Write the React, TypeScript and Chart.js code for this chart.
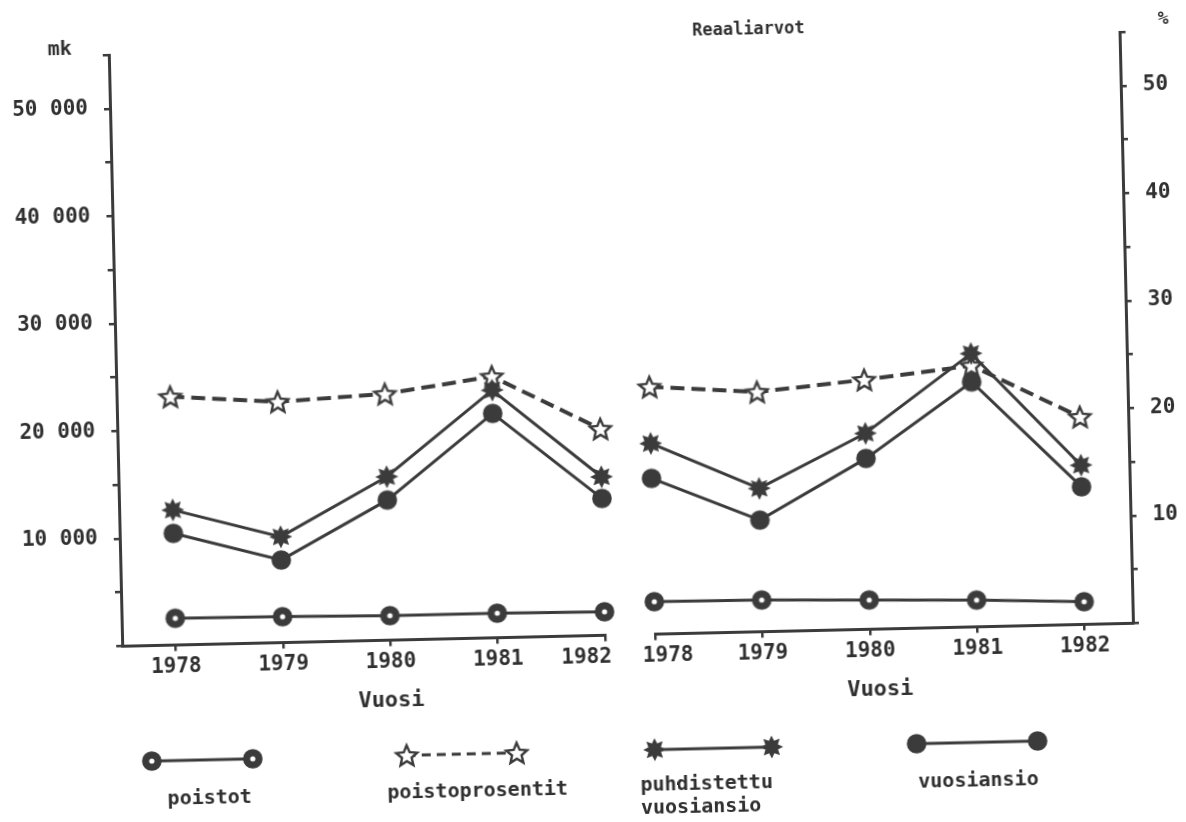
import React, { useEffect, useRef } from "react";
import { Chart, registerables } from "chart.js";

Chart.register(...registerables);

// ---- data ----
const YEARS = [1978, 1979, 1980, 1981, 1982];

// first group (left panel)
const POISTOT_A = [2490, 2410, 2280, 2280, 2190];
const PROSENTIT_A = [23.1, 22.4, 22.9, 24.3, 19.2];
const PUHDISTETTU_A = [12560, 9840, 15200, 23030, 14740];
const VUOSIANSIO_A = [10390, 7680, 13030, 20860, 12730];

// second group (right panel)
const POISTOT_B = [3020, 2950, 2720, 2490, 2110];
const PROSENTIT_B = [23.0, 22.3, 23.2, 24.3, 19.3];
const PUHDISTETTU_B = [17740, 13330, 18220, 25420, 14810];
const VUOSIANSIO_B = [14490, 10380, 15890, 22780, 12800];

const MK_LABELED = [10000, 20000, 30000, 40000, 50000];
const PCT_LABELED = [10, 20, 30, 40, 50];

const SERIES_NAMES = ["poistot", "poistoprosentit", "puhdistettu vuosiansio", "vuosiansio"];

// ---- styles ----
const INK = "#3b3b3b";
const TEXT = "#303030";
const FONT = '"DejaVu Sans Mono", "Liberation Mono", monospace';

type MarkerKind = "ring" | "star" | "burst" | "dot";

function makeMarker(kind: MarkerKind): HTMLCanvasElement {
  const size = 28;
  const c = document.createElement("canvas");
  c.width = size;
  c.height = size;
  const g = c.getContext("2d")!;
  const cx = size / 2;
  const cy = size / 2;
  g.fillStyle = INK;
  g.strokeStyle = INK;
  if (kind === "ring" || kind === "dot") {
    g.beginPath();
    g.arc(cx, cy, 9.8, 0, Math.PI * 2);
    g.fill();
    if (kind === "ring") {
      g.fillStyle = "#ffffff";
      g.beginPath();
      g.arc(cx, cy, 2.6, 0, Math.PI * 2);
      g.fill();
    }
  } else if (kind === "burst") {
    g.beginPath();
    for (let k = 0; k < 16; k++) {
      const r = k % 2 === 0 ? 11.5 : 6.8;
      const a = -Math.PI / 2 + (k * Math.PI) / 8;
      const px = cx + r * Math.cos(a);
      const py = cy + r * Math.sin(a);
      if (k === 0) g.moveTo(px, py);
      else g.lineTo(px, py);
    }
    g.closePath();
    g.fill();
  } else {
    g.beginPath();
    for (let k = 0; k < 10; k++) {
      const r = k % 2 === 0 ? 11 : 5;
      const a = -Math.PI / 2 + (k * Math.PI) / 5;
      const px = cx + r * Math.cos(a);
      const py = cy + 1 + r * Math.sin(a);
      if (k === 0) g.moveTo(px, py);
      else g.lineTo(px, py);
    }
    g.closePath();
    g.fillStyle = "#ffffff";
    g.fill();
    g.lineWidth = 2.4;
    g.lineJoin = "miter";
    g.stroke();
  }
  return c;
}

function fmtMk(v: number): string {
  return String(v).replace(/\B(?=(\d{3})+(?!\d))/g, " ");
}

type Markers = Record<MarkerKind, HTMLCanvasElement>;

function buildConfig(
  side: "left" | "right",
  poistot: number[],
  prosentit: number[],
  puhd: number[],
  vuosi: number[],
  m: Markers
): any {
  const pts = (arr: number[]) => YEARS.map((y, i) => ({ x: y, y: arr[i] }));
  const tickFont = { family: FONT, size: 21, weight: "bold" as const };
  const gridCommon = {
    display: true,
    drawOnChartArea: false,
    drawTicks: true,
    tickLength: 6,
    tickWidth: 2.5,
    tickColor: INK,
    color: INK,
    lineWidth: 2.5,
  };
  const border = { display: true, width: 3, color: INK };
  const common = (name: string) => ({
    label: name,
    fill: false,
    tension: 0,
    borderColor: INK,
    borderWidth: 3,
    pointRadius: 10,
    clip: false,
  });
  const showMk = side === "left";
  const showPct = side === "right";
  const yearLabel = (v: number) => {
    // nudge the two labels that meet between the panels apart, as in the original typing
    if (side === "left" && v === YEARS[YEARS.length - 1]) return String(v) + "   ";
    if (side === "right" && v === YEARS[0]) return "  " + String(v);
    return String(v);
  };
  return {
    type: "line",
    data: {
      datasets: [
        { ...common(SERIES_NAMES[2]), data: pts(puhd), yAxisID: "mk", pointStyle: m.burst },
        { ...common(SERIES_NAMES[3]), data: pts(vuosi), yAxisID: "mk", pointStyle: m.dot },
        { ...common(SERIES_NAMES[0]), data: pts(poistot), yAxisID: "mk", pointStyle: m.ring },
        {
          ...common(SERIES_NAMES[1]),
          data: pts(prosentit),
          yAxisID: "pct",
          pointStyle: m.star,
          borderWidth: 4,
          borderDash: [14, 7],
        },
      ],
    },
    options: {
      responsive: false,
      animation: false,
      events: [],
      layout: {
        padding:
          side === "left"
            ? { top: 44, right: 25, bottom: 24.5, left: 0 }
            : { top: 44, right: 0, bottom: 24.5, left: 25 },
      },
      plugins: { legend: { display: false }, tooltip: { enabled: false }, title: { display: false } },
      scales: {
        x: {
          type: "linear",
          position: "bottom",
          min: side === "left" ? 1977.5 : 1978,
          max: side === "left" ? 1982 : 1982.45,
          afterBuildTicks: (s: any) => {
            s.ticks = YEARS.map((v) => ({ value: v }));
          },
          afterFit: (s: any) => {
            s.height = 60;
            s.paddingLeft = 0;
            s.paddingRight = 0;
          },
          ticks: {
            callback: (v: any) => yearLabel(v),
            autoSkip: false,
            maxRotation: 0,
            padding: 3,
            color: TEXT,
            font: tickFont,
          },
          grid: gridCommon,
          border,
        },
        mk: {
          type: "linear",
          position: "left",
          display: showMk,
          min: 0,
          max: 55000,
          afterFit: (s: any) => {
            s.width = showMk ? 117 : 0;
            s.paddingTop = 0;
            s.paddingBottom = 0;
          },
          ticks: {
            stepSize: 5000,
            callback: (v: any) => (MK_LABELED.includes(v) ? fmtMk(v) : ""),
            padding: 16,
            color: TEXT,
            font: tickFont,
          },
          grid: gridCommon,
          border,
        },
        pct: {
          type: "linear",
          position: "right",
          display: showPct,
          min: 0,
          max: 55,
          afterFit: (s: any) => {
            s.width = showPct ? 58 : 0;
            s.paddingTop = 0;
            s.paddingBottom = 0;
          },
          ticks: {
            stepSize: 5,
            callback: (v: any) => (PCT_LABELED.includes(v) ? String(v) : ""),
            padding: 16,
            color: TEXT,
            font: tickFont,
          },
          grid: gridCommon,
          border,
        },
      },
    },
  };
}

const LEGEND_ITEMS: { marker: MarkerKind; dash: number[]; from: number; to: number }[] = [
  { marker: "ring", dash: [], from: 144, to: 245 },
  { marker: "star", dash: [9, 6], from: 399, to: 509 },
  { marker: "burst", dash: [], from: 647, to: 764 },
  { marker: "dot", dash: [], from: 909, to: 1030 },
];

function drawLegend(cv: HTMLCanvasElement, m: Markers) {
  const g = cv.getContext("2d")!;
  g.clearRect(0, 0, cv.width, cv.height);
  const y = 31;
  for (const it of LEGEND_ITEMS) {
    g.save();
    g.strokeStyle = INK;
    g.lineWidth = 3;
    g.setLineDash(it.dash);
    g.beginPath();
    g.moveTo(it.from, y);
    g.lineTo(it.to, y);
    g.stroke();
    g.restore();
    const img = m[it.marker];
    g.drawImage(img, it.from - img.width / 2, y - img.height / 2);
    g.drawImage(img, it.to - img.width / 2, y - img.height / 2);
  }
}

const textBase: React.CSSProperties = {
  position: "absolute",
  fontFamily: FONT,
  color: TEXT,
  whiteSpace: "nowrap",
  lineHeight: 1,
  transform: "translate(-50%, -50%)",
};

function Label(props: { x: number; y: number; size: number; bold?: boolean; children: React.ReactNode; align?: "center" | "left" }) {
  const style: React.CSSProperties = {
    ...textBase,
    left: props.x,
    top: props.y,
    fontSize: props.size,
    fontWeight: props.bold ? "bold" : "normal",
  };
  if (props.align === "left") style.transform = "translate(0, -50%)";
  return <div style={style}>{props.children}</div>;
}

export default function App() {
  const leftRef = useRef<HTMLCanvasElement>(null);
  const rightRef = useRef<HTMLCanvasElement>(null);
  const legendRef = useRef<HTMLCanvasElement>(null);

  useEffect(() => {
    const markers: Markers = {
      ring: makeMarker("ring"),
      star: makeMarker("star"),
      burst: makeMarker("burst"),
      dot: makeMarker("dot"),
    };
    const c1 = new Chart(
      leftRef.current!,
      buildConfig("left", POISTOT_A, PROSENTIT_A, PUHDISTETTU_A, VUOSIANSIO_A, markers)
    );
    const c2 = new Chart(
      rightRef.current!,
      buildConfig("right", POISTOT_B, PROSENTIT_B, PUHDISTETTU_B, VUOSIANSIO_B, markers)
    );
    if (legendRef.current) drawLegend(legendRef.current, markers);
    return () => {
      c1.destroy();
      c2.destroy();
    };
  }, []);

  return (
    <div
      style={{
        position: "fixed",
        left: 0,
        top: 0,
        width: 1186,
        height: 822,
        overflow: "hidden",
        background: "#ffffff",
      }}
    >
      <div
        style={{
          position: "absolute",
          left: 0,
          top: 0,
          width: 1186,
          height: 822,
          transform: "rotate(-1.3deg)",
          transformOrigin: "593px 411px",
        }}
      >
        <canvas
          ref={leftRef}
          width={625}
          height={720}
          style={{ position: "absolute", left: 0, top: 0, width: 625, height: 720 }}
        />
        <canvas
          ref={rightRef}
          width={561}
          height={720}
          style={{ position: "absolute", left: 625, top: 0, width: 561, height: 720 }}
        />
        <canvas
          ref={legendRef}
          width={1186}
          height={60}
          style={{ position: "absolute", left: 0, top: 720, width: 1186, height: 60 }}
        />
        <Label x={68} y={36} size={20} bold>mk</Label>
        <Label x={1172} y={31} size={18} bold>%</Label>
        <Label x={757} y={32} size={17} bold>Reaaliarvot</Label>
        <Label x={385} y={695} size={22} bold>Vuosi</Label>
        <Label x={874} y={695} size={22} bold>Vuosi</Label>
        <Label x={201} y={788} size={20} bold>poistot</Label>
        <Label x={469} y={787} size={20} bold>poistoprosentit</Label>
        <Label x={632} y={785} size={20} bold align="left">puhdistettu</Label>
        <Label x={632} y={808} size={20} bold align="left">vuosiansio</Label>
        <Label x={970} y={788} size={20} bold>vuosiansio</Label>
      </div>
    </div>
  );
}
